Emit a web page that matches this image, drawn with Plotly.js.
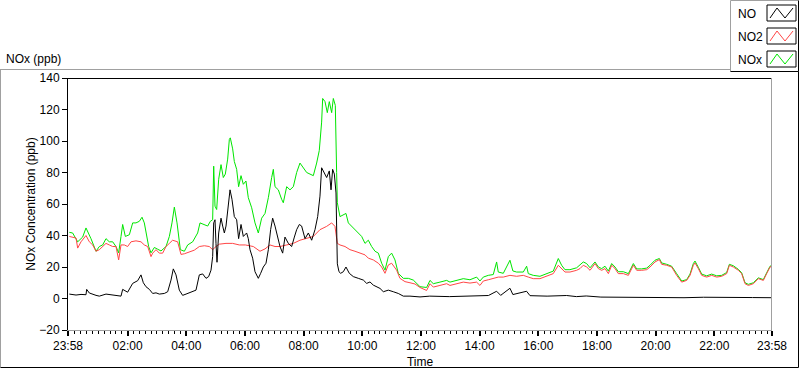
<!DOCTYPE html>
<html>
<head>
<meta charset="utf-8">
<script src="https://cdn.plot.ly/plotly-3.0.1.min.js"></script>
<style>html,body{margin:0;padding:0;background:#fff;}#chart{width:800px;height:369px;}</style>
</head>
<body>
<div id="chart"></div>
<script>
// Time is given in minutes after the 23:58 start of the record
const noMin = [2.7,9.5,16.4,26.6,36.8,38.2,43.6,57.3,64.1,77.7,91.4,98.2,108.4,111.8,122,132.3,142.5,149.3,154.1,159.5,166.4,173.2,180,186.8,197,203.9,210.7,215.4,220.9,227.7,234.5,241.4,251.6,261.8,268.6,275.5,282.3,287.7,292.5,295.9,298,300.7,302.7,304.8,308.2,313,316.4,319.8,323.2,328.6,331.4,335.4,340.2,345,349,353.9,358.6,365.4,368.8,372.3,377.7,382.5,389.3,394.1,399.5,405,409.8,414.5,418.6,423.4,428.2,433.6,439.1,443.8,450.7,457.5,463,467.7,473.2,477.9,484.8,491.6,498.4,505.2,510.7,515.4,518.8,523.6,529.1,534.5,538,541.3,544.8,548.2,549.5,550.9,554.3,557.7,563.2,568.6,575.4,583.6,593.8,604.1,610.9,617.7,624.5,638.2,645,655.2,665.4,675.6,685.9,699.5,720,740,780,820,860,876.7,885,904,910,938,945,980,1020,1040,1060,1090,1150,1200,1260,1300,1350,1400,1440];
const noVal = [2.8,2.5,2.2,2.6,2.4,5.8,3.5,2.0,1.5,2.8,2.2,2.0,1.5,5.8,4.0,9.6,11.3,15,10,7.5,5.8,3.2,3.6,2.8,3.2,4.3,11.7,18.8,15,5.3,2.0,2.8,4.3,5.3,15,15.6,12.8,13.9,18,26.6,48,50,35,23,41.6,51,46,41.6,46,63,69,63,52,50,38,47,39.4,41.6,38,31,25.6,17,12.8,16,20,22.4,31,43.7,51,46,39,33,28.8,39,35,33,39,43.7,47,46,38,41.6,37,43.7,52,65,83,80,76.8,81,69,82,79,67,35,22,17,16,17,20,16,13.9,12.8,11.7,9.6,10.5,8.5,6.4,4.3,5.3,4.3,3.2,1.5,1.5,1.0,1.5,1.2,1.5,1.9,4.6,2.0,6.5,2.5,4.6,1.8,1.5,1.9,1.2,1.6,0.9,0.6,0.8,0.5,0.8,0.5,0.6,0.5];

const no2Min = [2.7,16.4,19.8,26.6,36.8,43.6,50.5,57.3,64.1,70.9,77.7,84.5,91.4,98.2,101.6,103.6,108.4,115.2,122,128.9,139,149.3,156.1,163,169.8,173.2,180,186.8,193.6,200.5,207.3,214,224.3,231.1,238,248.2,258.4,268.6,278.9,289,295.9,302.7,309.5,323.2,336.8,350.4,362.7,379.1,392.7,403,413.2,423.4,433.6,447.3,460.9,474.5,488.2,501.8,515.4,529.1,539.3,546.1,550.9,556.3,566.6,576.8,587,597.3,607.5,614.3,624.5,634.8,641.6,648.4,655.2,662,672.2,679,689.3,699.5,709.8,720,733.5,740.4,747.2,760.8,774.5,781.3,794.9,808.5,822.2,835.8,842.6,849.5,859.7,869.9,880.1,890.4,904,917.6,931.3,941.5,951.7,965.4,979,992.6,1002.9,1009.7,1016.5,1026.7,1040.4,1047.3,1054,1061,1067.8,1078,1084.8,1091.6,1098.4,1105.3,1112.1,1118.9,1125.7,1135.9,1146.2,1156.4,1163.2,1173.4,1183.7,1190.5,1200.7,1209.6,1214.3,1224.6,1234.8,1245,1255.3,1265.5,1272.3,1279.1,1282.5,1289.3,1296.2,1306.4,1316.6,1326.9,1337.1,1347.3,1352.8,1360.9,1371.2,1378,1384.8,1391.6,1401.9,1412.1,1422.3,1429.1,1436,1440];
const no2Val = [39.4,38.4,32,36,40,36,34,30,31,33,35,34,33,33,27.7,24.5,34,34,33,36,36.6,36,34,33,26.6,28.8,31,28.8,28.8,33,35,37,36,28,28.4,29.6,30.7,33,33.5,33,31,33,34.5,35,35,34,34,33,30,31.5,34,33,33,34,35,37,38,39.4,43.7,45.8,48,45.8,35,34,33,31,30,28.8,27.7,25.6,24.5,22.4,20,16,21.3,22.4,18,12.8,10.7,10,9.2,7,5.1,9.4,7.25,8.3,9.4,8.3,9.4,10.4,9.8,10.4,8.3,11.1,11.9,12.6,13.6,13.6,14.7,14.1,14.7,13.6,12.6,12.6,14.1,15.8,21.1,19.0,16.8,16.8,17.9,19.0,21.1,20,17.9,22.2,19.0,17.9,19.0,15.8,21.1,19.0,15.8,15.8,14.7,21.1,17.9,17.9,18.3,20.0,23.2,24.7,21.7,21.1,20.0,14.7,10.4,11.5,14.7,21.1,22.6,19.0,14.7,13.6,14.7,13.6,14.1,15.8,21.1,20.0,17.9,15.8,9.4,8.3,9.4,12.6,11.5,15.8,20.0,20.5];

const noxMin = [2.7,9.5,19.8,30,36.8,47,57.3,64.1,70.9,77.7,84.5,91.4,98.2,103.6,108.4,111.8,117.3,125.5,132.3,139,145.9,151.4,156.1,159.5,165,169.8,176.6,183.4,190.2,200.5,207.3,212.7,217.5,223,229.8,238,244.8,255,265.2,270,278.9,285.7,291.1,295.9,298,300.7,304.1,308.2,313,317.7,321.8,326.6,330,332,336.8,340.2,345,349,353.9,358.6,364,368.8,375.7,382.5,389.3,396.1,403,409.8,416.6,420,423.4,430.2,437,440.4,447.3,454.1,460.9,467.7,474.5,481.3,488.2,495,501.8,508.6,514,518.8,520.9,525.7,530.4,534.5,539.3,542.7,546.8,549.5,550.9,556.3,563.2,568.6,573.4,580.2,587,593.8,600.7,607.5,614.3,621.1,628,634.8,641.6,648.4,655.2,662,668.8,675.6,685.9,696.1,706.3,720,733.5,740.4,747.2,760.8,774.5,781.3,794.9,808.5,822.2,835.8,842.6,849.5,859.7,869.9,876.7,880.1,890.4,904,910,917.6,931.3,938.1,941.5,951.7,965.4,979,992.6,1002.9,1009.7,1016.5,1026.7,1040.4,1054,1060.8,1067.8,1078,1084.8,1091.6,1098.4,1105.3,1112.1,1118.9,1125.7,1135.9,1146.2,1156.4,1163.2,1173.4,1183.7,1190.5,1200.7,1209.6,1214.3,1224.6,1234.8,1245,1255.3,1265.5,1272.3,1279.1,1282.5,1289.3,1296.2,1306.4,1316.6,1326.9,1337.1,1347.3,1352.8,1360.9,1371.2,1378,1384.8,1391.6,1401.9,1412.1,1422.3,1429.1,1436,1440];
const noxVal = [42,41.6,36,39,44.8,38,30,33,34,38,36,36,33,29,39.4,47,39.4,40.5,48,48,49,51.6,48,41.6,33,29,32.4,31.3,30.2,33,39.4,48,58,48,31,30,34,36,41.6,48,47,46,49,50,84,58.6,56.5,75.7,85,76.8,79,88.5,101,102,95,87,82,71,78,72.5,74.6,64,57.6,48,41.6,51,54,64,76.8,82,71,69,63,60.8,71,69,71,80,86,83,80,79,78,86,94,112,127,125,118,125,118,127,122.6,80,60.8,52,53,54,48,45.8,43.7,41.6,39.4,35,37,33,30,28.8,22.4,18,26.6,28.8,24.5,16,12.8,12.8,11.7,7.5,7.0,11.5,9.4,10.4,11.5,10.4,11.5,12.6,11.9,13.6,11.1,13.6,14.7,15.2,23.2,16.8,16.0,24.3,17.5,16.8,16.8,20.5,15.8,14.7,14.1,15.8,17.4,25.4,21.1,18.3,18.3,19.5,23.2,22.2,19.5,23.2,20.0,19.0,20.5,17.4,22.2,20.0,17.0,17.0,15.8,22.2,18.8,18.8,19.3,21.1,24.3,25.4,22.6,21.7,20.5,15.8,11.1,12.0,15.5,22.2,23.8,19.8,15.5,14.4,15.5,14.4,14.7,16.5,21.7,20.8,18.5,16.3,10.0,9.0,10.0,13.1,12.0,16.3,20.5,21.0];

const tickMin = [0,122,242,362,482,602,722,842,962,1082,1202,1322,1440];
const tickLabels = ["23:58","02:00","04:00","06:00","08:00","10:00","12:00","14:00","16:00","18:00","20:00","22:00","23:58"];
const seriesNames = ["NO","NO2","NOx"];
const seriesColors = ["#000000","#ff4646","#00e600"];

// pixel -> paper helpers (plot area: x 68..772, y 78..330)
const L = 68, R = 772, T = 78, B = 330;
const px = x => (x - L) / (R - L);
const py = y => (B - y) / (B - T);

const FONT = "Liberation Sans, Arial, sans-serif";

const traces = [
  {x: noxMin, y: noxVal, name: seriesNames[2], type: "scatter", mode: "lines", line: {color: seriesColors[2], width: 1}},
  {x: no2Min, y: no2Val, name: seriesNames[1], type: "scatter", mode: "lines", line: {color: seriesColors[1], width: 1}},
  {x: noMin, y: noVal, name: seriesNames[0], type: "scatter", mode: "lines", line: {color: seriesColors[0], width: 1}}
];

function line(x0, y0, x1, y1, color) {
  return {type: "line", xref: "paper", yref: "paper", x0: px(x0), y0: py(y0), x1: px(x1), y1: py(y1),
          line: {color: color, width: 1}, layer: "above"};
}

const shapes = [
  line(68, 78.5, 772, 78.5, "#000000"),
  line(771.5, 78, 771.5, 330, "#a0a0a0"),
  line(0, 69.5, 730, 69.5, "#a0a0a0"),
  line(0.5, 69.5, 0.5, 367.5, "#a0a0a0"),
  line(0.5, 367.5, 798.5, 367.5, "#000000"),
  line(798.5, 71.5, 798.5, 367.5, "#000000"),
  line(730.5, 0.5, 798.5, 0.5, "#a0a0a0"),
  line(730.5, 0.5, 730.5, 71.5, "#a0a0a0"),
  line(730.5, 71.5, 798.5, 71.5, "#000000"),
  line(798.5, 0.5, 798.5, 71.5, "#000000")
];
const annotations = [
  {text: "NOx (ppb)", xref: "paper", yref: "paper", x: px(4), y: py(59), xanchor: "left", yanchor: "middle",
   showarrow: false, font: {family: FONT, size: 12, color: "#000"}}
];
const rowY = [13, 36, 59];
seriesNames.forEach((nm, i) => {
  const cy = rowY[i];
  annotations.push({text: nm, xref: "paper", yref: "paper", x: px(736), y: py(cy + 1), xanchor: "left", yanchor: "middle",
    showarrow: false, font: {family: FONT, size: 12, color: "#000"}});
  shapes.push({type: "rect", xref: "paper", yref: "paper", x0: px(767), x1: px(796), y0: py(cy - 8), y1: py(cy + 8),
    line: {color: "#000", width: 1}, fillcolor: "#fff", layer: "above"});
  const p = [[770, cy + 5], [777, cy - 5], [785, cy + 5], [793, cy - 5]];
  const d = "M" + p.map(q => px(q[0]) + "," + py(q[1])).join(" L");
  shapes.push({type: "path", xref: "paper", yref: "paper", path: d, line: {color: seriesColors[i], width: 1}, layer: "above"});
});

const layout = {
  width: 800, height: 369,
  margin: {l: L, r: 800 - R, t: T, b: 369 - B, pad: 0},
  paper_bgcolor: "#ffffff", plot_bgcolor: "#ffffff",
  showlegend: false,
  font: {family: FONT, size: 12, color: "#000"},
  xaxis: {
    range: [0, 1440], tickvals: tickMin, ticktext: tickLabels,
    showgrid: false, zeroline: false, showline: true, linecolor: "#a0a0a0", linewidth: 1,
    ticks: "outside", ticklen: 5, tickcolor: "#000", tickwidth: 2,
    tickfont: {family: FONT, size: 12, color: "#000"},
    minor: {dtick: 12, tick0: 2, ticks: "outside", ticklen: 3, tickcolor: "#000", tickwidth: 1, showgrid: false},
    title: {text: "Time", font: {family: FONT, size: 12, color: "#000"}, standoff: 5}
  },
  yaxis: {
    range: [-20, 140], dtick: 20, tick0: 0,
    showgrid: false, zeroline: false, showline: true, linecolor: "#000", linewidth: 1,
    ticks: "outside", ticklen: 5, tickcolor: "#000",
    tickfont: {family: FONT, size: 12, color: "#000"},
    title: {text: "NOx Concentration (ppb)", font: {family: FONT, size: 12, color: "#000"}, standoff: 1}
  },
  shapes: shapes,
  annotations: annotations
};

Plotly.newPlot("chart", traces, layout, {displayModeBar: false, staticPlot: true});
</script>
</body>
</html>
